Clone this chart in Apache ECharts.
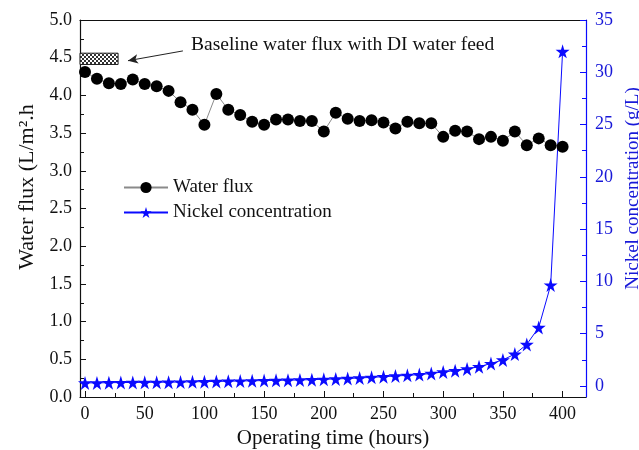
<!DOCTYPE html>
<html><head><meta charset="utf-8">
<script src="https://cdn.jsdelivr.net/npm/echarts@6/dist/echarts.min.js"></script>
<style>html,body{margin:0;padding:0;background:#fff}#c{width:639px;height:450px}</style>
</head><body><div id="c"></div>
<script>
const hours = [0,10,20,30,40,50,60,70,80,90,100,110,120,130,140,150,160,170,180,190,200,210,220,230,240,250,260,270,280,290,300,310,320,330,340,350,360,370,380,390,400];
const fluxValues = [4.31,4.22,4.16,4.15,4.21,4.15,4.12,4.06,3.91,3.81,3.61,4.02,3.81,3.74,3.65,3.61,3.68,3.68,3.66,3.66,3.52,3.77,3.69,3.66,3.67,3.64,3.56,3.65,3.63,3.63,3.45,3.53,3.52,3.42,3.45,3.40,3.52,3.34,3.43,3.34,3.32];
const nickelValues = [0.30,0.30,0.32,0.33,0.34,0.35,0.36,0.37,0.38,0.40,0.42,0.44,0.46,0.48,0.50,0.52,0.54,0.56,0.58,0.61,0.64,0.68,0.72,0.77,0.83,0.89,0.96,1.02,1.09,1.20,1.35,1.47,1.63,1.85,2.15,2.50,3.05,3.98,5.60,9.65,32.0];
const xTickLabels = [0,50,100,150,200,250,300,350,400];
const xMinorTicks = [25,75,125,175,225,275,325,375];
const nickelTickLabels = [0,5,10,15,20,25,30,35];
const nickelMinorTicks = [2.5,7.5,12.5,17.5,22.5,27.5,32.5];
const baselineBox = [[-4.2,4.41],[27.7,4.56]];
const arrowLine = [[82,4.59],[36,4.46]];

const FONT = 'Liberation Serif';
const BLUE = '#0a0aff';
const BLUE_TXT = '#1818d8';
const X_MIN = -4.2, X_MAX = 419.6, R_MIN = -1.05, R_MAX = 35;

const pat = document.createElement('canvas');
pat.width = 4; pat.height = 4;
const pc = pat.getContext('2d');
pc.fillStyle = '#fff'; pc.fillRect(0,0,4,4);
pc.fillStyle = '#333'; pc.fillRect(0,0,2,2); pc.fillRect(2,2,2,2);

const star = 'path://M50,0 L61,35 L98,35 L68,57 L79,91 L50,70 L21,91 L32,57 L2,35 L39,35 Z';

const chart = echarts.init(document.getElementById('c'), null, {renderer:'canvas'});
chart.setOption({
  animation:false,
  backgroundColor:'#fff',
  grid:{left:80,right:53,top:20,bottom:53,containLabel:false,outerBoundsMode:'none'},
  legend:{
    orient:'vertical', left:123, top:178, padding:0, itemWidth:44, itemHeight:14, itemGap:6,
    textStyle:{fontFamily:FONT,fontSize:19,color:'#111'},
    data:['Water flux','Nickel concentration']
  },
  xAxis:[
    {type:'value',min:X_MIN,max:X_MAX,position:'bottom',
     name:'Operating time (hours)',nameLocation:'middle',nameGap:31,
     nameTextStyle:{fontFamily:FONT,fontSize:21,color:'#111'},
     axisLine:{show:true,onZero:false,lineStyle:{color:'#111',width:1.2}},
     axisTick:{show:true,inside:true,length:6,customValues:xTickLabels,lineStyle:{color:'#111'}},
     axisLabel:{customValues:xTickLabels,margin:8,fontFamily:FONT,fontSize:18,color:'#111'},
     splitLine:{show:false}},
    {type:'value',min:X_MIN,max:X_MAX,position:'top',
     axisLine:{show:true,onZero:false,lineStyle:{color:'#111',width:1.2}},
     axisTick:{show:false},axisLabel:{show:false},splitLine:{show:false}},
    {type:'value',min:X_MIN,max:X_MAX,position:'bottom',
     axisLine:{show:false,onZero:false},
     axisTick:{show:true,inside:true,length:4,customValues:xMinorTicks,lineStyle:{color:'#111'}},
     axisLabel:{show:false},splitLine:{show:false}}
  ],
  yAxis:[
    {type:'value',min:0,max:5,interval:0.5,position:'left',
     name:'Water flux (L/m\u00b2.h',nameLocation:'middle',nameGap:42,
     nameTextStyle:{fontFamily:FONT,fontSize:22,color:'#111',padding:[0,0,0,43]},
     axisLine:{show:true,onZero:false,lineStyle:{color:'#111',width:1.2}},
     axisTick:{show:true,inside:true,length:6,lineStyle:{color:'#111'}},
     minorTick:{show:true,splitNumber:2,length:4,lineStyle:{color:'#111'}},
     axisLabel:{margin:8,fontFamily:FONT,fontSize:18,color:'#111',formatter:v=>v.toFixed(1)},
     splitLine:{show:false}},
    {type:'value',min:R_MIN,max:R_MAX,position:'right',
     name:'Nickel concentration (g/L)',nameLocation:'middle',nameGap:36,nameRotate:90,
     nameTextStyle:{fontFamily:FONT,fontSize:19,color:BLUE_TXT,padding:[0,0,0,40]},
     axisLine:{show:true,onZero:false,lineStyle:{color:BLUE,width:1.2}},
     axisTick:{show:true,inside:true,length:6,customValues:nickelTickLabels,lineStyle:{color:BLUE}},
     axisLabel:{customValues:nickelTickLabels,margin:9,fontFamily:FONT,fontSize:18,color:BLUE_TXT},
     splitLine:{show:false}},
    {type:'value',min:R_MIN,max:R_MAX,position:'right',
     axisLine:{show:false,onZero:false},
     axisTick:{show:true,inside:true,length:4,customValues:nickelMinorTicks,lineStyle:{color:BLUE}},
     axisLabel:{show:false},splitLine:{show:false}}
  ],
  graphic:[
    {type:'text',left:191,top:35,style:{text:'Baseline water flux with DI water feed',fontFamily:FONT,fontSize:19.5,fill:'#111'}}
  ],
  series:[
    {name:'Water flux',type:'line',xAxisIndex:0,yAxisIndex:0,
     data:hours.map((h,i)=>[h,fluxValues[i]]),
     symbol:'circle',symbolSize:12,
     itemStyle:{color:'#000'},lineStyle:{color:'#8a8a8a',width:1},
     markArea:{silent:true,
       itemStyle:{color:{image:pat,repeat:'repeat'},borderColor:'#222',borderWidth:1},
       data:[[{coord:baselineBox[0]},{coord:baselineBox[1]}]]},
     markLine:{silent:true,symbol:['none','arrow'],symbolSize:[7,10],
       lineStyle:{color:'#222',width:1,type:'solid'},label:{show:false},
       data:[[{coord:arrowLine[0]},{coord:arrowLine[1]}]]}
    },
    {name:'Nickel concentration',type:'line',xAxisIndex:0,yAxisIndex:1,
     data:hours.map((h,i)=>[h,nickelValues[i]]),
     symbol:star,symbolSize:14,
     itemStyle:{color:BLUE},lineStyle:{color:BLUE,width:1}}
  ]
});
</script>
</body></html>
